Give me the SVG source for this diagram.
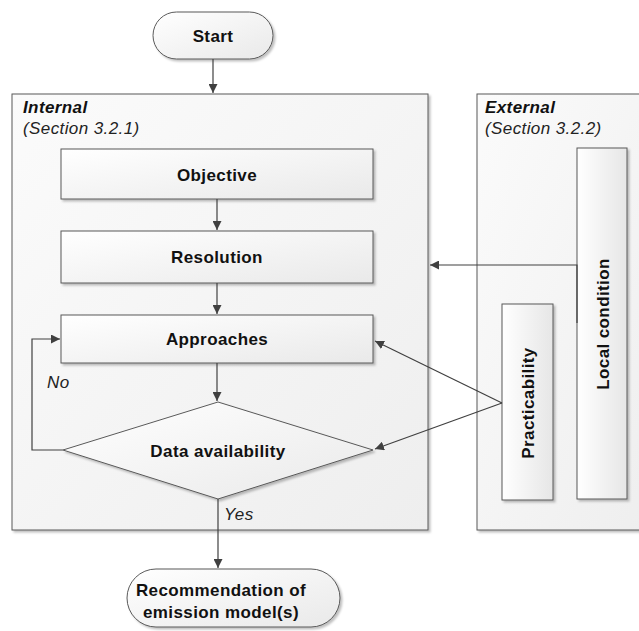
<svg xmlns="http://www.w3.org/2000/svg" width="639" height="631" viewBox="0 0 639 631">
  <defs>
    <linearGradient id="boxg" x1="0" y1="0" x2="1" y2="1">
      <stop offset="0" stop-color="#ffffff"/>
      <stop offset="1" stop-color="#e9e9e9"/>
    </linearGradient>
    <linearGradient id="vboxg" x1="0" y1="0" x2="1" y2="0">
      <stop offset="0" stop-color="#ffffff"/>
      <stop offset="1" stop-color="#e6e6e6"/>
    </linearGradient>
    <linearGradient id="contg" x1="0" y1="0" x2="1" y2="1">
      <stop offset="0" stop-color="#fbfbfb"/>
      <stop offset="1" stop-color="#eeeeee"/>
    </linearGradient>
    <filter id="sh" x="-10%" y="-10%" width="130%" height="130%">
      <feDropShadow dx="2" dy="2" stdDeviation="1" flood-color="#000" flood-opacity="0.25"/>
    </filter>
    <marker id="arr" viewBox="0 0 10 10" refX="10" refY="5" markerWidth="9" markerHeight="9" markerUnits="userSpaceOnUse" orient="auto">
      <path d="M0,0 L10,5 L0,10 Z" fill="#404040"/>
    </marker>
  </defs>
  <style>
    .box { fill: url(#boxg); stroke: #595959; stroke-width: 1; filter: url(#sh); }
    .vbox { fill: url(#vboxg); stroke: #595959; stroke-width: 1; filter: url(#sh); }
    .cont { fill: url(#contg); stroke: #595959; stroke-width: 1; filter: url(#sh); }
    .lbl { font-family: "Liberation Sans", Arial, sans-serif; font-size: 17px; letter-spacing: 0.4px; font-weight: bold; fill: #111; text-anchor: middle; }
    .hdr { font-family: "Liberation Sans", Arial, sans-serif; font-size: 17px; letter-spacing: 0.4px; font-weight: bold; font-style: italic; fill: #111; }
    .sub { font-family: "Liberation Sans", Arial, sans-serif; font-size: 17px; letter-spacing: 0.4px; font-style: italic; fill: #222; }
    .conn { stroke: #404040; stroke-width: 1.2; fill: none; }
  </style>

  <g id="internal">
    <rect class="cont" x="12" y="94" width="416" height="436"/>
    <text class="hdr" x="23" y="113">Internal</text>
    <text class="sub" x="23" y="134">(Section 3.2.1)</text>
  </g>
  <g id="external">
    <rect class="cont" x="477" y="94" width="175" height="436"/>
    <text class="hdr" x="485" y="113">External</text>
    <text class="sub" x="485" y="134">(Section 3.2.2)</text>
  </g>

  <g id="start">
    <rect class="box" x="153" y="12" width="120" height="47" rx="23.5"/>
    <text class="lbl" x="213" y="42">Start</text>
  </g>
  <g id="objective">
    <rect class="box" x="61" y="149" width="312" height="50"/>
    <text class="lbl" x="217" y="181">Objective</text>
  </g>
  <g id="resolution">
    <rect class="box" x="61" y="231" width="312" height="52"/>
    <text class="lbl" x="217" y="263">Resolution</text>
  </g>
  <g id="approaches">
    <rect class="box" x="61" y="315" width="312" height="48"/>
    <text class="lbl" x="217" y="345">Approaches</text>
  </g>
  <g id="data-availability">
    <polygon class="box" points="218,402 373,450 218,499 63,450"/>
    <text class="lbl" x="218" y="457">Data availability</text>
  </g>
  <g id="local-condition">
    <rect class="vbox" x="577" y="148" width="50" height="351"/>
    <text class="lbl" transform="translate(609,324) rotate(-90)" x="0" y="0">Local condition</text>
  </g>
  <g id="practicability">
    <rect class="vbox" x="502" y="304" width="51" height="196"/>
    <text class="lbl" transform="translate(534,403) rotate(-90)" x="0" y="0">Practicability</text>
  </g>
  <g id="recommendation">
    <rect class="box" x="127" y="569" width="213" height="58" rx="29"/>
    <text class="lbl" x="221" y="596">Recommendation of</text>
    <text class="lbl" x="221" y="618">emission model(s)</text>
  </g>

  <g id="connectors">
    <line class="conn" x1="213" y1="59" x2="213" y2="93" marker-end="url(#arr)"/>
    <line class="conn" x1="217" y1="199" x2="217" y2="230" marker-end="url(#arr)"/>
    <line class="conn" x1="217" y1="283" x2="217" y2="314" marker-end="url(#arr)"/>
    <line class="conn" x1="217" y1="363" x2="217" y2="401" marker-end="url(#arr)"/>
    <polyline class="conn" points="63,450 32,450 32,339 60,339" marker-end="url(#arr)"/>
    <line class="conn" x1="218" y1="499" x2="218" y2="568" marker-end="url(#arr)"/>
    <polyline class="conn" points="577,323 577,265 430,265" marker-end="url(#arr)"/>
    <line class="conn" x1="502" y1="403" x2="375" y2="341" marker-end="url(#arr)"/>
    <line class="conn" x1="502" y1="403" x2="375" y2="449" marker-end="url(#arr)"/>
    <text class="sub" x="47" y="388">No</text>
    <text class="sub" x="224" y="520">Yes</text>
  </g>
</svg>
